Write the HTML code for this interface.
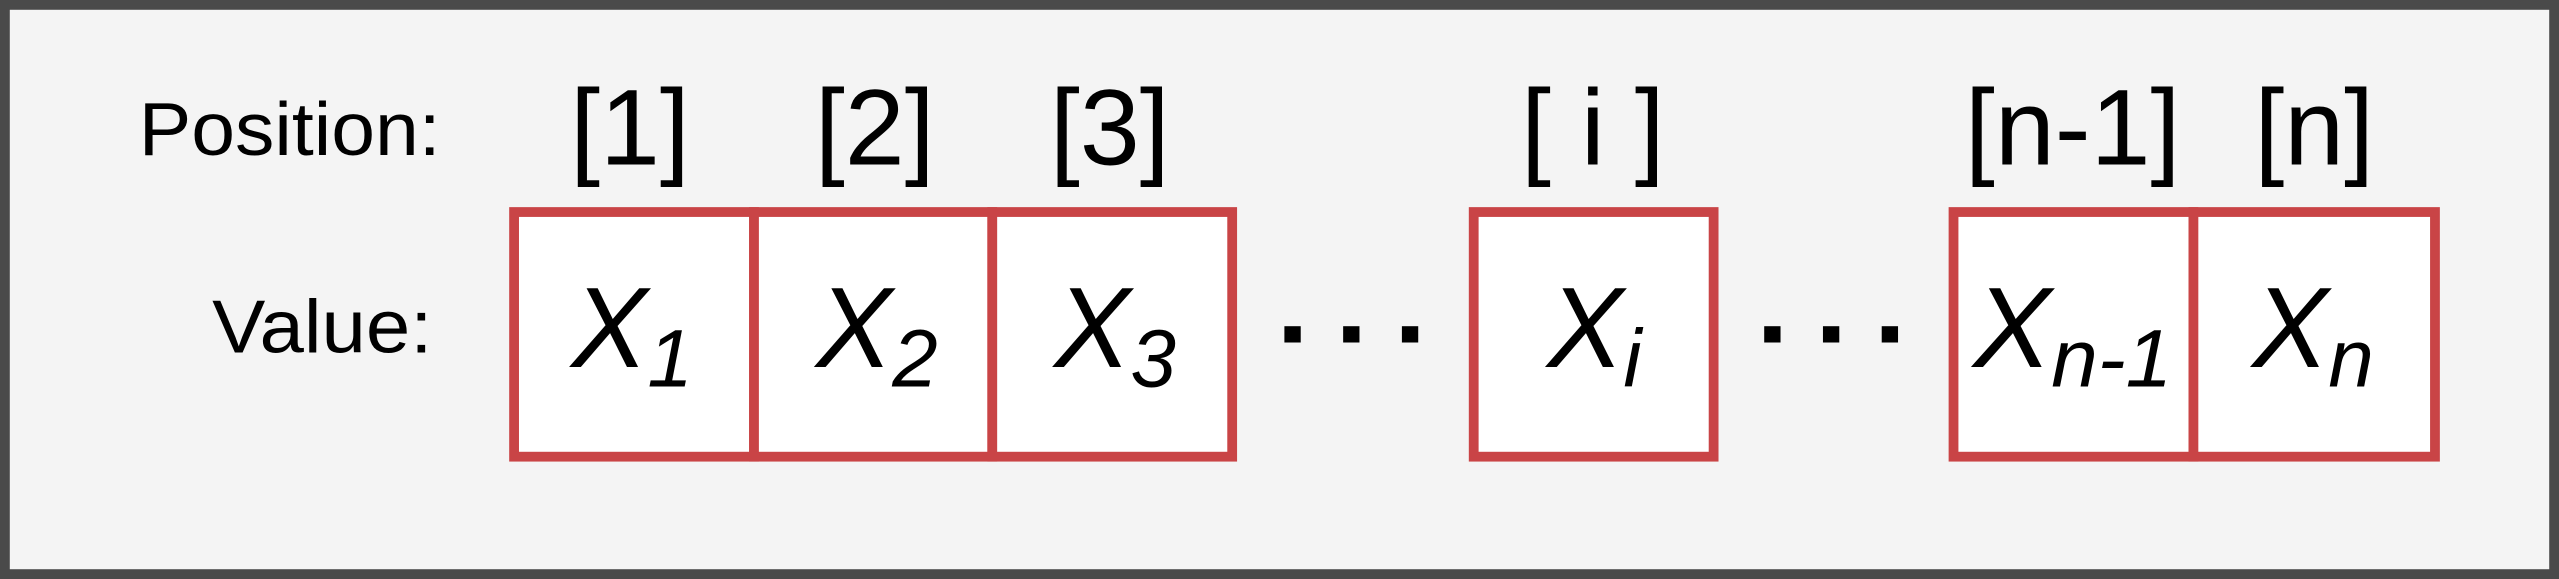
<!DOCTYPE html>
<html><head><meta charset="utf-8"><style>
html,body{margin:0;padding:0;background:#f4f4f4;}
svg{display:block;}
text{font-family:"Liberation Sans",Arial,sans-serif;fill:#000;}
</style></head><body>
<svg width="2559" height="579" viewBox="0 0 1568 355" preserveAspectRatio="none" xmlns="http://www.w3.org/2000/svg">
<rect x="3" y="3" width="1562" height="349" fill="#f4f4f4" stroke="#4a4a4a" stroke-width="6"/>
<text x="85" y="95" font-size="46" textLength="185" lengthAdjust="spacingAndGlyphs">Position:</text>
<text x="130" y="216" font-size="46" textLength="135" lengthAdjust="spacingAndGlyphs">Value:</text>
<g font-size="66" text-anchor="middle">
<text x="386" y="101">[1]</text>
<text x="536" y="101">[2]</text>
<text x="680" y="101">[3]</text>
<text x="976" y="101">[ i ]</text>
<text x="1270" y="101">[n-1]</text>
<text x="1418" y="101">[n]</text>
</g>
<g fill="#fff" stroke="#c94446" stroke-width="6">
<rect x="315" y="130" width="147" height="150"/>
<rect x="462" y="130" width="146" height="150"/>
<rect x="608" y="130" width="147" height="150"/>
<rect x="903" y="130" width="147" height="150"/>
<rect x="1197" y="130" width="147" height="150"/>
<rect x="1344" y="130" width="148" height="150"/>
</g>
<g font-style="italic">
<text x="350" y="225" font-size="70">X<tspan font-size="50" dy="12">1</tspan></text>
<text x="500" y="225" font-size="70">X<tspan font-size="50" dy="12">2</tspan></text>
<text x="646" y="225" font-size="70">X<tspan font-size="50" dy="12">3</tspan></text>
<text x="948" y="225" font-size="70">X<tspan font-size="50" dy="12">i</tspan></text>
<text x="1209" y="225" font-size="70" textLength="122" lengthAdjust="spacingAndGlyphs">X<tspan font-size="50" dy="12">n-1</tspan></text>
<text x="1380" y="225" font-size="70">X<tspan font-size="50" dy="12">n</tspan></text>
</g>
<g fill="#000">
<rect x="787" y="200" width="10" height="10"/><rect x="823" y="200" width="10" height="10"/><rect x="859" y="200" width="10" height="10"/>
<rect x="1081" y="200" width="10" height="10"/><rect x="1117" y="200" width="10" height="10"/><rect x="1153" y="200" width="10" height="10"/>
</g>
</svg>
</body></html>
